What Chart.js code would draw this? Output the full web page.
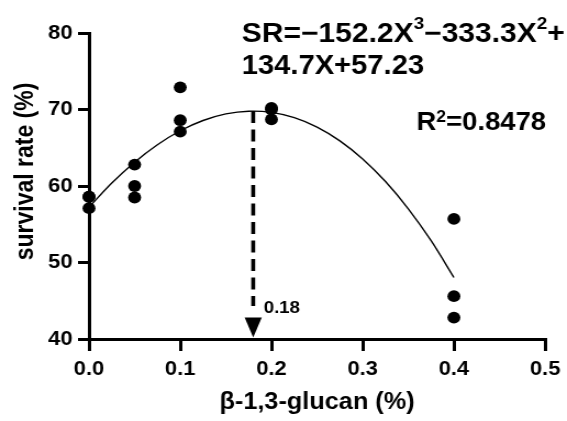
<!DOCTYPE html>
<html><head><meta charset="utf-8">
<script src="https://cdn.jsdelivr.net/npm/chart.js@4/dist/chart.umd.min.js"></script>
<style>
html,body{margin:0;padding:0;background:#fff;overflow:hidden;}
#wrap{width:516px;height:421px;transform:scaleX(1.0988);transform-origin:0 0;}
canvas{display:block;}
</style></head><body>
<div id="wrap"><canvas id="c" width="516" height="421" style="width:516px;height:421px"></canvas></div>
<script>
// β-1,3-glucan dose groups (%) and replicate survival rates (%)
const dose = [0, 0.05, 0.1, 0.2, 0.4];
const rep1 = [58.6, 62.8, 72.9, 70.2, 55.7];
const rep2 = [58.6, 60.0, 68.6, 70.0, 45.6];
const rep3 = [57.1, 58.5, 67.1, 68.7, 42.8];

// fitted curve
const fitX = [0,0.025,0.05,0.075,0.1,0.125,0.15,0.175,0.2,0.225,0.25,0.275,0.3,0.325,0.35,0.375,0.4];
const fitY = [57.23,60.39,63.11,65.39,67.22,68.56,69.42,69.78,69.62,68.93,67.70,65.90,63.53,60.58,57.02,52.85,48.04];

// optimum marker
const optX = [0.18, 0.18];
const optY = [69.79, 44.3];
const optLabel = '0.18';

const xTickVals = [0, 0.1, 0.2, 0.3, 0.4, 0.5];
const xTickLabels = ['0.0','0.1','0.2','0.3','0.4','0.5'];
const yTickVals = [40, 50, 60, 70, 80];
const yTickLabels = ['40','50','60','70','80'];

const FONT = "'Liberation Sans', Arial, sans-serif";

const points = [];
dose.forEach((d,i)=>{ points.push({x:d,y:rep1[i]},{x:d,y:rep2[i]},{x:d,y:rep3[i]}); });
const fitPts = fitX.map((x,i)=>({x, y:fitY[i]}));
const optPts = optX.map((x,i)=>({x, y:optY[i]}));

function fitText(ctx, parts, x, baseline, targetW){
  // parts: [text, sup?]
  let w = 0;
  parts.forEach(p=>{ ctx.font = p.font; w += ctx.measureText(p.t).width; });
  const s = targetW / w;
  ctx.save();
  ctx.translate(x, baseline);
  ctx.scale(s, 1);
  let cx = 0;
  parts.forEach(p=>{
    ctx.font = p.font;
    ctx.fillText(p.t, cx, -(p.raise||0));
    cx += ctx.measureText(p.t).width;
  });
  ctx.restore();
}

const annot = {
  id:'annot',
  afterDraw(chart){
    const ctx = chart.ctx, xs = chart.scales.x, ys = chart.scales.y;
    ctx.save();
    ctx.fillStyle = '#000';
    ctx.textAlign = 'left';
    ctx.textBaseline = 'alphabetic';
    // arrow head
    const px = xs.getPixelForValue(optX[0]);
    const tip = ys.getPixelForValue(40) - 1.5;
    ctx.beginPath();
    ctx.moveTo(px, tip);
    ctx.lineTo(px - 7.8, tip - 20);
    ctx.lineTo(px + 7.8, tip - 20);
    ctx.closePath();
    ctx.fill();
    // 0.18 label
    ctx.font = 'bold 17px ' + FONT;
    ctx.fillText(optLabel, px + 9.5, 313);
    // equation
    const big = 'bold 27px ' + FONT, sup = 'bold 17px ' + FONT;
    fitText(ctx, [
      {t:'SR=\u2212152.2X', font:big},
      {t:'3', font:sup, raise:13},
      {t:'\u2212333.3X', font:big},
      {t:'2', font:sup, raise:13},
      {t:'+', font:big}
    ], 220, 41.5, 294);
    fitText(ctx, [{t:'134.7X+57.23', font:big}], 220, 74, 166);
    fitText(ctx, [
      {t:'R', font:'bold 25px ' + FONT},
      {t:'2', font:'bold 16px ' + FONT, raise:8.5},
      {t:'=0.8478', font:'bold 25px ' + FONT}
    ], 379, 130, 118);
    // axis titles
    ctx.font = 'bold 23px ' + FONT;
    ctx.textAlign = 'center';
    ctx.fillText('\u03b2-1,3-glucan (%)', (chart.chartArea.left + chart.chartArea.right)/2, 409);
    ctx.translate(30.3, 171.5);
    ctx.rotate(-Math.PI/2);
    ctx.fillText('survival rate (%)', 0, 0);
    ctx.restore();
  }
};

new Chart(document.getElementById('c'), {
  type:'scatter',
  data:{datasets:[
    {data:fitPts, showLine:true, borderColor:'#000', borderWidth:1.4, pointRadius:0, tension:0.35, fill:false, order:3},
    {data:optPts, showLine:true, borderColor:'#000', borderWidth:3.6, borderDash:[12,6.5], borderCapStyle:'butt', pointRadius:0, fill:false, order:2},
    {data:points, backgroundColor:'#000', borderColor:'#000', pointRadius:5.9, pointHoverRadius:5.9, borderWidth:0, clip:false, order:1}
  ]},
  options:{
    responsive:false, animation:false, devicePixelRatio:1,
    layout:{padding:{top:33, right:15, left:0, bottom:0}},
    plugins:{legend:{display:false}, tooltip:{enabled:false}},
    scales:{
      x:{type:'linear', min:0, max:0.5,
        afterBuildTicks:s=>{ s.ticks = xTickVals.map(v=>({value:v})); },
        afterFit:s=>{ s.height = 82; },
        ticks:{callback:(v,i)=>xTickLabels[i], color:'#000', font:{family:FONT, size:20, weight:'bold'}, padding:6, maxRotation:0, autoSkip:false},
        grid:{drawOnChartArea:false, drawTicks:true, tickLength:12, lineWidth:3, color:'#000'},
        border:{width:3, color:'#000'}
      },
      y:{type:'linear', min:40, max:80,
        afterBuildTicks:s=>{ s.ticks = yTickVals.map(v=>({value:v})); },
        afterFit:s=>{ s.width = 81; },
        ticks:{callback:(v,i)=>yTickLabels[i], color:'#000', font:{family:FONT, size:20, weight:'bold'}, padding:5},
        grid:{drawOnChartArea:false, drawTicks:true, tickLength:10, lineWidth:3, color:'#000'},
        border:{width:3, color:'#000'}
      }
    }
  },
  plugins:[annot]
});
</script>
</body></html>
